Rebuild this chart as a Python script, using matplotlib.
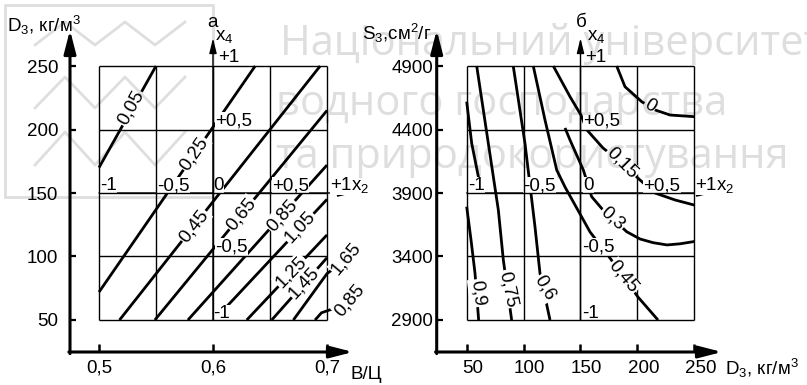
import numpy as np
import matplotlib
matplotlib.use("Agg")
import matplotlib.pyplot as plt
from matplotlib.patches import Rectangle
from matplotlib.lines import Line2D
from matplotlib.transforms import ScaledTranslation

plt.rcParams['font.family'] = ['Liberation Sans', 'DejaVu Sans']
plt.rcParams['mathtext.fontset'] = 'custom'
plt.rcParams['mathtext.rm'] = 'Liberation Sans'
plt.rcParams['mathtext.it'] = 'Liberation Sans'
plt.rcParams['mathtext.default'] = 'regular'

# ---- panel а: D3 against В/Ц ----
bc_ticks = [0.5, 0.6, 0.7]
bc_tick_labels = ["0,5", "0,6", "0,7"]
bc_grid = [0.5, 0.55, 0.6, 0.65, 0.7]
dens_ticks = [50, 100, 150, 200, 250]
dens_tick_labels = ["50", "100", "150", "200", "250"]

a_levels = ["0,05", "0,25", "0,45", "0,65", "0,85", "1,05", "1,25", "1,45", "1,65", "0,85"]
a_bc = [[0.5, 0.55], [0.5, 0.637], [0.518, 0.694], [0.549, 0.7], [0.578, 0.7],
        [0.601, 0.7], [0.6296, 0.7], [0.6515, 0.7], [0.6705, 0.7, 0.704],
        [0.6895, 0.6952, 0.7045]]
a_dens = [[170, 250], [72, 250], [50, 250], [50, 215], [50, 172],
          [50, 145], [50, 117], [50, 99], [50, 86.5, 89.2],
          [50, 55.7, 58.6]]
a_lab_bc = [0.528, 0.5833, 0.5833, 0.6246, 0.6605, 0.6763, 0.6684, 0.6798, 0.7167, 0.7197]
a_lab_dens = [217, 181, 124, 133.5, 132.5, 123, 88, 79.5, 98.5, 65.7]
a_lab_rot = [61, 55, 52, 51, 48, 47, 46, 47, 50, 50]

a_x2_pos = [0.5, 0.55, 0.6, 0.65, 0.7]
a_x2_text = ["-1", "-0,5", "0", "+0,5", "+1x$_2$"]
a_x4_pos = [50, 100, 200, 250]
a_x4_text = ["-1", "-0,5", "+0,5", "+1"]

# ---- panel б: S3 against D3 ----
surf_ticks = [2900, 3400, 3900, 4400, 4900]
surf_tick_labels = ["2900", "3400", "3900", "4400", "4900"]

b_levels = ["0,9", "0,75", "0,6", "0,45", "0,3", "0,15", "0"]
b_dens = [[50, 54.4, 62.3, np.nan, 50, 53.8, 57.3, 60.5],
          [58.8, 69, 77.8, 82.2, 89.5],
          [90.9, 101.2, 110, 114.4, 123.2],
          [108.5, 118.8, 129.1, 136.4, 158.4, 175.9, 200.5, 218.1],
          [136.4, 140.8, 152.5, 159.8, 169.8, 178.6, 190.6, 202.3, 213.7, 226, 237.5, 250],
          [126.1, 140.8, 150.4, 155.7, 169.8, 186.5, 202.3, 215.5, 233.1, 250],
          [181.8, 189.1, 203.8, 215.5, 228.7, 250]]
b_surf = [[4619, 4291, 3937, np.nan, 3792, 3530, 3268, 2900],
          [4900, 4291, 3766, 3372, 2900],
          [4900, 4291, 3635, 3268, 2900],
          [4900, 4475, 4081, 3947, 3593, 3388, 3081, 2900],
          [4412, 4317, 4081, 3871, 3766, 3695, 3595, 3538, 3509, 3491, 3500, 3518],
          [4900, 4658, 4514, 4396, 4254, 4136, 4002, 3900, 3845, 3805],
          [4900, 4737, 4619, 4554, 4514, 4501]]
b_lab_dens = [59.9, 86.3, 119, 187.8, 178.6, 186.5, 211.1]
b_lab_surf = [3112, 3144, 3152, 3239, 3700, 4136, 4585]
b_lab_rot = [-83, -78, -60, -50, -42, -45, -32]

b_x2_pos = [50, 100, 150, 200, 250]
b_x2_text = ["-1", "-0,5", "0", "+0,5", "+1x$_2$"]
b_x4_pos = [2900, 3400, 4400, 4900]
b_x4_text = ["-1", "-0,5", "+0,5", "+1"]

FS = 13.5
W, H = 807, 385
fig = plt.figure(figsize=(W / 100, H / 100), dpi=100)


def px_axes(x0, x1, y_top, y_bot):
    return fig.add_axes([x0 / W, 1 - y_bot / H, (x1 - x0) / W, (y_bot - y_top) / H])


def frame(ax, xt, xl, yt, yl, ypad, xshift=0):
    ax.patch.set_visible(False)
    for s in ax.spines.values():
        s.set_visible(False)
    ax.set_xticks(xt, xl)
    ax.set_yticks(yt, yl)
    ax.tick_params(axis='x', direction='in', length=6, width=1.8, pad=5.5, labelsize=FS)
    ax.tick_params(axis='y', direction='in', length=4.5, width=1.6, pad=ypad, labelsize=FS)
    head = dict(arrowstyle='-|>,head_length=1.4,head_width=0.36', mutation_scale=10,
                lw=2.2, color='k', shrinkA=0, shrinkB=0)
    ax.annotate('', xy=(1, 0), xytext=(-0.004, 0), xycoords='axes fraction',
                arrowprops=head, annotation_clip=False)
    ax.annotate('', xy=(0, 1), xytext=(0, -0.005), xycoords='axes fraction',
                arrowprops=head, annotation_clip=False)
    if xshift:
        for lab in ax.get_xticklabels():
            lab.set_transform(lab.get_transform() + ScaledTranslation(xshift / 100, 0, fig.dpi_scale_trans))


def box(ax, xs, ys):
    ax.vlines(xs, ys[0], ys[-1], colors='k', lw=1.0, zorder=6)
    ax.hlines(ys, xs[0], xs[-1], colors='k', lw=1.0, zorder=6)


def coded_axes(ax, x0, y0, x_tip, y_tip, xs, ys):
    small = dict(arrowstyle='-|>,head_length=0.9,head_width=0.22', mutation_scale=10,
                 lw=1.0, color='k', shrinkA=0, shrinkB=0)
    ax.annotate('', xy=(x0, y_tip), xytext=(x0, ys[0]), arrowprops=small, annotation_clip=False)
    ax.annotate('', xy=(x_tip, y0), xytext=(xs[0], y0), arrowprops=small, annotation_clip=False)


def coded(ax, x, y, s, dx, dy=3, ha='left'):
    ax.annotate(s, xy=(x, y), xytext=(dx, dy), textcoords='offset pixels', ha=ha,
                va='baseline', fontsize=FS, zorder=5, annotation_clip=False,
                bbox=dict(boxstyle='square,pad=0.02', fc='white', ec='none'))


def tag(ax, x, y, s, rot):
    ax.text(x, y, s, rotation=rot, rotation_mode='anchor', ha='center', va='center',
            fontsize=FS, zorder=8, bbox=dict(boxstyle='square,pad=0.05', fc='white', ec='none'))


# panel а
axa = px_axes(70, 353, 30, 352)
axa.set_xlim(0.47456, 0.72281)
axa.set_ylim(24.80, 278.35)
frame(axa, bc_ticks, bc_tick_labels, dens_ticks, dens_tick_labels, ypad=8.4)
box(axa, bc_grid, dens_ticks)
coded_axes(axa, 0.6, 150, 0.7228, 272, bc_grid, dens_ticks)
for xs, ys in zip(a_bc, a_dens):
    axa.plot(xs, ys, color='k', lw=2.0, solid_capstyle='butt', zorder=3, clip_on=False)
for x, y, s, r in zip(a_lab_bc, a_lab_dens, a_levels, a_lab_rot):
    tag(axa, x, y, s, r)
for x, s, dx in zip(a_x2_pos, a_x2_text, [1, 1, 0, 2, 3]):
    coded(axa, x, 150, s, dx)
for y, s, dx, dy in zip(a_x4_pos, a_x4_text, [0, 2, 2, 5], [2, 5, 4, 4]):
    coded(axa, 0.6, y, s, dx, dy)
axa.annotate("x$_4$", xy=(0.6, 272), xytext=(2, -2), textcoords='offset pixels',
             ha='left', va='baseline', fontsize=FS, annotation_clip=False)
axa.annotate("а", xy=(0.6, 272), xytext=(0, 11), textcoords='offset pixels',
             ha='center', va='baseline', fontsize=FS, annotation_clip=False)

# panel б
axb = px_axes(436.7, 722, 30, 352)
axb.set_xlim(23.64, 274.34)
axb.set_ylim(2648.0, 5183.5)
frame(axb, dens_ticks, dens_tick_labels, surf_ticks, surf_tick_labels, ypad=2.5, xshift=6)
box(axb, dens_ticks, surf_ticks)
coded_axes(axb, 150, 3900, 265.6, 5120, dens_ticks, surf_ticks)
for xs, ys in zip(b_dens, b_surf):
    axb.plot(xs, ys, color='k', lw=2.0, solid_capstyle='butt', zorder=3)
for x, y, s, r in zip(b_lab_dens, b_lab_surf, b_levels, b_lab_rot):
    tag(axb, x, y, s, r)
for x, s, dx in zip(b_x2_pos, b_x2_text, [1, 0, 3, 6, 1]):
    coded(axb, x, 3900, s, dx)
for y, s, dx, dy in zip(b_x4_pos, b_x4_text, [2, 2, 3, 5], [2, 5, 4, 4]):
    coded(axb, 150, y, s, dx, dy)
axb.annotate("x$_4$", xy=(150, 5120), xytext=(7, -2), textcoords='offset pixels',
             ha='left', va='baseline', fontsize=FS, annotation_clip=False)
axb.annotate("б", xy=(150, 5120), xytext=(1, 11), textcoords='offset pixels',
             ha='center', va='baseline', fontsize=FS, annotation_clip=False)

# axis titles
fig.text(7 / W, 1 - 32 / H, "D$_3$, кг/м$^3$", fontsize=FS, va='baseline', ha='left')
fig.text(350 / W, 1 - 379 / H, "В/Ц", fontsize=FS, va='baseline', ha='left')
fig.text(362 / W, 1 - 40 / H, "S$_3$,см$^2$/г", fontsize=FS, va='baseline', ha='left')
fig.text(725 / W, 1 - 375 / H, "D$_3$, кг/м$^3$", fontsize=FS, va='baseline', ha='left')

# faint watermark of the source
wm = dict(fontsize=30, family='Open Sans', color='black', alpha=0.13,
          va='baseline', ha='left', zorder=20)
fig.text(280 / W, 1 - 55 / H, "Національний університет", **wm)
fig.text(276 / W, 1 - 115 / H, "водного господарства", **wm)
fig.text(276 / W, 1 - 168 / H, "та природокористування", **wm)
fig.add_artist(Rectangle((5 / W, 1 - 197 / H), 208 / W, 192 / H, transform=fig.transFigure,
                         fill=False, ec='black', alpha=0.13, lw=2.0, zorder=20))
for top, bot in [(22, 45), (77, 108), (132, 165)]:
    zx = np.array([35, 65, 95, 125, 155, 185]) / W
    zy = 1 - np.array([bot, top, bot, top, bot, top]) / H
    fig.add_artist(Line2D(zx, zy, transform=fig.transFigure, color='black',
                          alpha=0.13, lw=2.0, zorder=20))

fig.savefig("out.png", dpi=100)
